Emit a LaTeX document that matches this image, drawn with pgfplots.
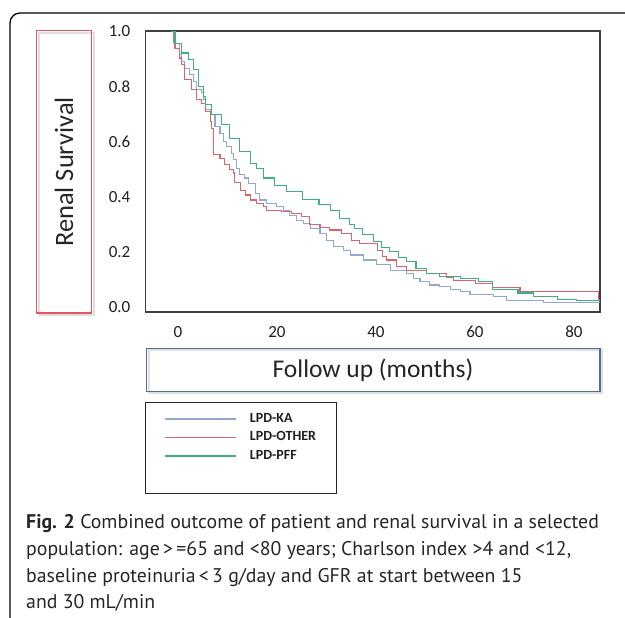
\documentclass[border=0pt]{standalone}
\usepackage{pgfplots}
\pgfplotsset{compat=1.18}
\usepackage{fontspec}
\setmainfont{Carlito}
\newfontfamily\capfont{PT Sans}

\definecolor{kaBlue}{HTML}{94A6D2}
\definecolor{otherRed}{HTML}{D9666B}
\definecolor{pffGreen}{HTML}{3DAE88}
\definecolor{ylabRed}{HTML}{E0585C}
\definecolor{xlabBlue}{HTML}{4F6F92}

\begin{document}
\begin{tikzpicture}
\useasboundingbox (0pt,0pt) rectangle (625pt,618pt);
\clip (0pt,0pt) rectangle (625pt,618pt);

% outer figure frame (cut at right and bottom)
\draw[line width=1.3pt, rounded corners=10pt] (10pt,-30pt) -- (10pt,605pt) -- (680pt,605pt);

% y label box
\draw[gray!25, line width=2pt] (39pt,303pt) rectangle (93.5pt,585pt);
\draw[ylabRed, line width=1.1pt] (36.7pt,305pt) rectangle (91.7pt,587.3pt);
\node[rotate=90, font=\fontsize{26.5}{30}\selectfont, text=black!85] at (64pt,446pt) {Renal Survival};

% x label box
\draw[gray!25, line width=2pt] (149pt,224.6pt) rectangle (602pt,267.6pt);
\draw[xlabBlue, line width=1.1pt] (146.7pt,226.6pt) rectangle (600pt,269.6pt);
\node[font=\fontsize{25.5}{30}\selectfont, text=black!85] at (373pt,248pt) {Follow up (months)};

% legend frame
\draw[black!85, line width=1.2pt] (145.5pt,124.5pt) rectangle (336.8pt,215.2pt);

\begin{axis}[
  at={(145.5pt,306pt)}, anchor=south west,
  width=454.5pt, height=281pt, scale only axis,
  xmin=-5.15, xmax=86.67, ymin=-0.019, ymax=1.002,
  xtick={0,20,40,60,80}, ytick={0,0.2,0.4,0.6,0.8,1.0},
  major tick length=0pt,
  axis line style={draw=black!75, line width=1.2pt},
  tick label style={font=\fontsize{17}{19}\selectfont, text=black!88, inner sep=0pt},
  /pgf/number format/assume math mode=true,
  yticklabel style={/pgf/number format/fixed, /pgf/number format/fixed zerofill,
    /pgf/number format/precision=1, xshift=-15pt},
  xticklabel style={xshift=7pt, yshift=-14pt},
  legend image code/.code={\draw[#1, line width=1.8pt] (0pt,0pt) -- (71pt,0pt);},
  legend cell align=left,
  legend style={draw=none, fill=none, inner sep=0pt,
    at={(0,0)}, anchor=north west, xshift=18.5pt, yshift=-100.5pt,
    row sep=5.3pt, column sep=13pt,
    nodes={inner sep=0pt, text height=10pt, text depth=3pt,
      font=\fontsize{14}{15}\selectfont\bfseries, text=black!88}},
]
% LPD-KA
\addplot[const plot, kaBlue, line width=1.1pt] table {
0 1.0
0.5 0.958
1.8 0.916
2.2 0.892
2.8 0.867
3.8 0.843
4.5 0.819
5.2 0.789
6.2 0.777
6.5 0.752
6.9 0.716
7.9 0.698
8.9 0.655
9.9 0.631
10.6 0.601
11.2 0.583
12.2 0.558
12.6 0.534
13.2 0.504
13.9 0.480
14.9 0.468
15.6 0.449
17.0 0.412
17.9 0.388
19.3 0.376
21.3 0.363
22.7 0.351
24.0 0.333
25.4 0.315
26.7 0.303
28.1 0.285
30.1 0.267
31.5 0.242
32.8 0.218
34.8 0.206
36.3 0.188
38.9 0.170
41.6 0.152
44.3 0.133
47.6 0.121
49.0 0.103
50.3 0.091
52.3 0.079
54.3 0.073
56.4 0.063
58.4 0.055
60.4 0.043
65.1 0.036
67.8 0.024
75.2 0.016
86.67 0.016
};
% LPD-OTHER
\addplot[const plot, otherRed, line width=1.1pt] table {
0 1.0
0.5 0.964
0.8 0.940
1.8 0.904
2.2 0.879
2.8 0.825
4.2 0.789
5.2 0.752
6.2 0.740
6.9 0.710
7.9 0.674
8.2 0.649
8.5 0.552
9.9 0.540
10.9 0.516
11.9 0.500
12.6 0.486
12.9 0.450
14.0 0.424
15.0 0.406
16.0 0.388
17.3 0.376
18.6 0.363
19.3 0.351
22.4 0.345
24.3 0.339
26.4 0.327
28.0 0.300
30.1 0.288
32.0 0.279
34.5 0.267
36.5 0.242
38.0 0.230
41.8 0.205
42.8 0.183
43.6 0.170
45.6 0.145
47.6 0.133
51.7 0.121
55.6 0.105
57.0 0.095
61.5 0.085
65.0 0.070
70.5 0.055
86.4 0.025
86.67 0.025
};
% LPD-PFF
\addplot[const plot, pffGreen, line width=1.1pt] table {
0 1.0
0.8 0.958
2.2 0.922
3.5 0.898
4.5 0.861
5.5 0.801
6.5 0.765
6.9 0.734
8.2 0.698
10.2 0.661
11.9 0.613
13.9 0.565
16.0 0.521
17.3 0.504
18.6 0.468
21.0 0.441
23.4 0.418
26.6 0.391
29.9 0.372
32.3 0.350
34.1 0.321
36.0 0.300
37.1 0.285
38.7 0.262
40.9 0.236
42.5 0.215
44.2 0.200
46.0 0.178
47.6 0.165
49.5 0.140
51.7 0.121
54.3 0.109
58.4 0.103
62.1 0.091
65.0 0.062
70.1 0.050
73.3 0.036
78.0 0.026
82.0 0.022
86.67 0.022
};
\legend{LPD-KA, LPD-OTHER, LPD-PFF}
\end{axis}

% caption
\begin{scope}[every node/.style={anchor=base west, inner sep=0pt, font=\capfont\fontsize{19.8}{24}\selectfont, text=black!85}]
\node at (26pt,89pt) {\textbf{Fig. 2} Combined outcome of patient and renal survival in a selected};
\node at (26pt,62.3pt) {population: age\,>\,=65 and <80 years; Charlson index >4 and <12,};
\node at (26pt,35.5pt) {baseline proteinuria\,<\,3 g/day and GFR at start between 15};
\node at (26pt,9pt) {and 30 mL/min};
\end{scope}
\end{tikzpicture}
\end{document}
